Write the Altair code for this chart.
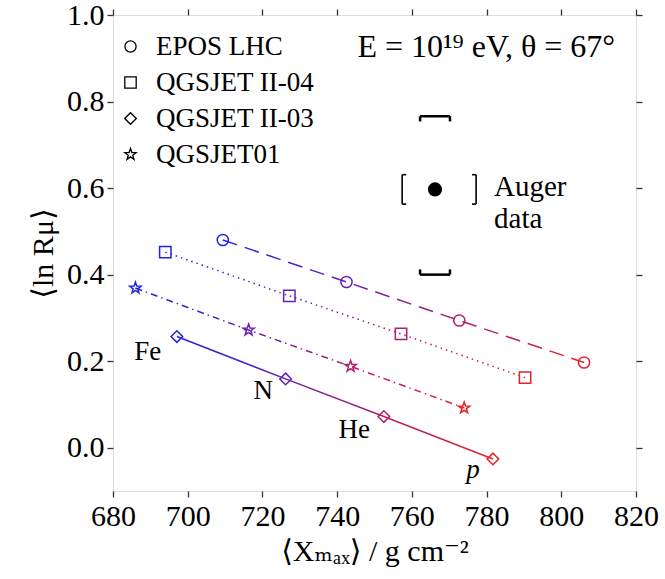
import altair as alt
import pandas as pd

# ---------------- data ----------------
models = ["EPOS LHC", "QGSJET II-04", "QGSJET II-03", "QGSJET01"]
compositions = ["Fe", "N", "He", "p"]
comp_colors = ["#2222e6", "#6b20b0", "#b0206b", "#e6222a"]

epos_x = [709.4, 742.5, 772.7, 806.1]
epos_y = [0.480, 0.383, 0.294, 0.197]
qii04_x = [694.0, 727.2, 757.1, 790.3]
qii04_y = [0.452, 0.351, 0.263, 0.162]
qii03_x = [697.1, 726.2, 752.5, 781.7]
qii03_y = [0.257, 0.159, 0.072, -0.026]
q01_x = [686.0, 716.3, 743.6, 774.0]
q01_y = [0.369, 0.272, 0.188, 0.092]

# Auger measurement with systematic brackets
auger_x = [766.2]
auger_y = [0.597]
auger_x_sys = [757.4, 777.2]
auger_y_sys = [0.400, 0.766]

label_names = ["Fe", "N", "He"]
label_x = [689.3, 720.2, 744.6]
label_y = [0.222, 0.130, 0.040]
p_label_x = [776.4]
p_label_y = [-0.051]

x_ticks = [680, 700, 720, 740, 760, 780, 800, 820]
y_ticks = [0.0, 0.2, 0.4, 0.6, 0.8, 1.0]

# ---------------- styling ----------------
FONT = "Liberation Serif, DejaVu Serif, serif"
FS = 30
shapes = [
    "circle",
    "square",
    "diamond",
    "M0,-1L0.235,-0.324L0.951,-0.309L0.380,0.124L0.588,0.809L0,0.4"
    "L-0.588,0.809L-0.380,0.124L-0.951,-0.309L-0.235,-0.324Z",
]
sizes = [125, 140, 250, 320]
dashes = {"EPOS LHC": [15, 8], "QGSJET II-04": [1.5, 4], "QGSJET II-03": None,
          "QGSJET01": [7, 4, 1.5, 4]}

xs_all = [epos_x, qii04_x, qii03_x, q01_x]
ys_all = [epos_y, qii04_y, qii03_y, q01_y]

rows = []
for m, xs, ys in zip(models, xs_all, ys_all):
    for c, x, y in zip(compositions, xs, ys):
        rows.append(dict(model=m, comp=c, x=x, y=y))
df = pd.DataFrame(rows)

x_scale = alt.Scale(domain=[680, 820], nice=False, zero=False)
y_scale = alt.Scale(domain=[-0.1, 1.0], nice=False, zero=False)

X0 = alt.X("x:Q", scale=x_scale, axis=None)
Y0 = alt.Y("y:Q", scale=y_scale, axis=None)

layers = []

# gradient lines
for m, xs in zip(models, xs_all):
    x0, x3 = xs[0], xs[-1]
    stops = [alt.GradientStop(offset=(x - x0) / (x3 - x0), color=c)
             for x, c in zip(xs, comp_colors)]
    grad = alt.LinearGradient(gradient="linear", stops=stops, x1=0, x2=1, y1=0, y2=0)
    kw = dict(stroke=grad, strokeWidth=1.5)
    if dashes[m]:
        kw["strokeDash"] = dashes[m]
    layers.append(
        alt.Chart(df[df.model == m]).mark_line(**kw).encode(x=X0, y=Y0, order="x:Q")
    )

axis_common = dict(
    labelFont=FONT, labelFontSize=FS, labelColor="black",
    labelFlush=False, labelOverlap=False,
    tickSize=6, tickWidth=1.3, tickColor="#333", domain=False, grid=False,
    titleFont=FONT, titleFontSize=FS, titleFontWeight="normal", titleColor="black",
)

legend = alt.Legend(
    title=None, orient="none", legendX=4, legendY=18,
    labelFont=FONT, labelFontSize=27, labelColor="black",
    symbolStrokeColor="black", symbolFillColor="transparent", symbolStrokeWidth=1.3,
    rowPadding=8, labelOffset=12,
)

points = alt.Chart(df).mark_point(filled=False, strokeWidth=1.5, opacity=1).encode(
    x=alt.X("x:Q", scale=x_scale,
            axis=alt.Axis(orient="bottom", values=x_ticks, format="d",
                          title="⟨Xₘₐₓ⟩ / g cm⁻²", labelPadding=4, titlePadding=5,
                          **axis_common)),
    y=alt.Y("y:Q", scale=y_scale,
            axis=alt.Axis(orient="left", values=y_ticks, format=".1f",
                          title="⟨ln Rμ⟩", labelPadding=3, titlePadding=8,
                          **axis_common)),
    shape=alt.Shape("model:N", scale=alt.Scale(domain=models, range=shapes), legend=legend),
    size=alt.Size("model:N", scale=alt.Scale(domain=models, range=sizes), legend=legend),
    color=alt.Color("comp:N", scale=alt.Scale(domain=compositions, range=comp_colors),
                    legend=None),
)
layers.append(points)

# frame axes (top/right ticks only)
frame = alt.Chart(df).mark_point(opacity=0).encode(
    x=alt.X("x:Q", scale=x_scale,
            axis=alt.Axis(orient="top", values=x_ticks, labels=False, title=None,
                          **axis_common)),
    y=alt.Y("y:Q", scale=y_scale,
            axis=alt.Axis(orient="right", values=y_ticks, labels=False, title=None,
                          **axis_common)),
)
layers.append(frame)

# composition labels
lab_df = pd.DataFrame(dict(name=label_names, x=label_x, y=label_y))
layers.append(
    alt.Chart(lab_df).mark_text(font=FONT, fontSize=27, color="black").encode(
        x=X0, y=Y0, text="name:N")
)
p_df = pd.DataFrame(dict(name=["p"], x=p_label_x, y=p_label_y))
layers.append(
    alt.Chart(p_df).mark_text(font=FONT, fontSize=27, fontStyle="italic", color="black").encode(
        x=X0, y=Y0, text="name:N")
)

# Auger point
ax, ay = auger_x[0], auger_y[0]
adf = pd.DataFrame(dict(x=auger_x, y=auger_y))
layers.append(
    alt.Chart(adf).mark_point(filled=True, color="black", size=200, opacity=1, shape="circle")
    .encode(x=X0, y=Y0)
)

# vertical systematic caps (bold)
cap_hw = 4.0      # half width of caps in x units
cap_arm = 0.012   # arm length in y units
ylo, yhi = auger_y_sys
caps = pd.DataFrame([
    dict(x=ax - cap_hw, x2=ax + cap_hw, y=yhi, y2=yhi),
    dict(x=ax - cap_hw, x2=ax - cap_hw, y=yhi, y2=yhi - cap_arm),
    dict(x=ax + cap_hw, x2=ax + cap_hw, y=yhi, y2=yhi - cap_arm),
    dict(x=ax - cap_hw, x2=ax + cap_hw, y=ylo, y2=ylo),
    dict(x=ax - cap_hw, x2=ax - cap_hw, y=ylo, y2=ylo + cap_arm),
    dict(x=ax + cap_hw, x2=ax + cap_hw, y=ylo, y2=ylo + cap_arm),
])
layers.append(
    alt.Chart(caps).mark_rule(color="black", strokeWidth=2.5).encode(
        x=X0, x2="x2:Q", y=Y0, y2="y2:Q")
)

# horizontal systematic brackets
br_hh = 0.034
br_arm = 1.1
xlo, xhi = auger_x_sys
brs = pd.DataFrame([
    dict(x=xlo, x2=xlo, y=ay - br_hh, y2=ay + br_hh),
    dict(x=xlo, x2=xlo + br_arm, y=ay - br_hh, y2=ay - br_hh),
    dict(x=xlo, x2=xlo + br_arm, y=ay + br_hh, y2=ay + br_hh),
    dict(x=xhi, x2=xhi, y=ay - br_hh, y2=ay + br_hh),
    dict(x=xhi, x2=xhi - br_arm, y=ay - br_hh, y2=ay - br_hh),
    dict(x=xhi, x2=xhi - br_arm, y=ay + br_hh, y2=ay + br_hh),
])
layers.append(
    alt.Chart(brs).mark_rule(color="black", strokeWidth=1.6).encode(
        x=X0, x2="x2:Q", y=Y0, y2="y2:Q")
)

# Auger data label
atext = pd.DataFrame(dict(x=[782.0], y=[0.603], t=["Auger\ndata"]))
layers.append(
    alt.Chart(atext).mark_text(font=FONT, fontSize=29, align="left", baseline="middle",
                               lineBreak="\n", lineHeight=32, color="black")
    .encode(x=X0, y=Y0, text="t:N")
)

# energy / angle annotation
etext = pd.DataFrame(dict(x=[814.4], y=[0.926], t=["E = 10¹⁹ eV, θ = 67°"]))
layers.append(
    alt.Chart(etext).mark_text(font=FONT, fontSize=32, align="right", baseline="middle",
                               color="black")
    .encode(x=X0, y=Y0, text="t:N")
)

chart = alt.layer(*layers).resolve_axis(x="independent", y="independent").properties(
    width=523, height=476,
    autosize=alt.AutoSizeParams(type="none"),
    padding={"left": 113, "top": 15, "right": 29, "bottom": 88},
).configure_view(stroke="#333", strokeWidth=1.5).configure(background="white", font=FONT)

chart.save("out.html", embed_options={"renderer": "svg", "actions": False})
